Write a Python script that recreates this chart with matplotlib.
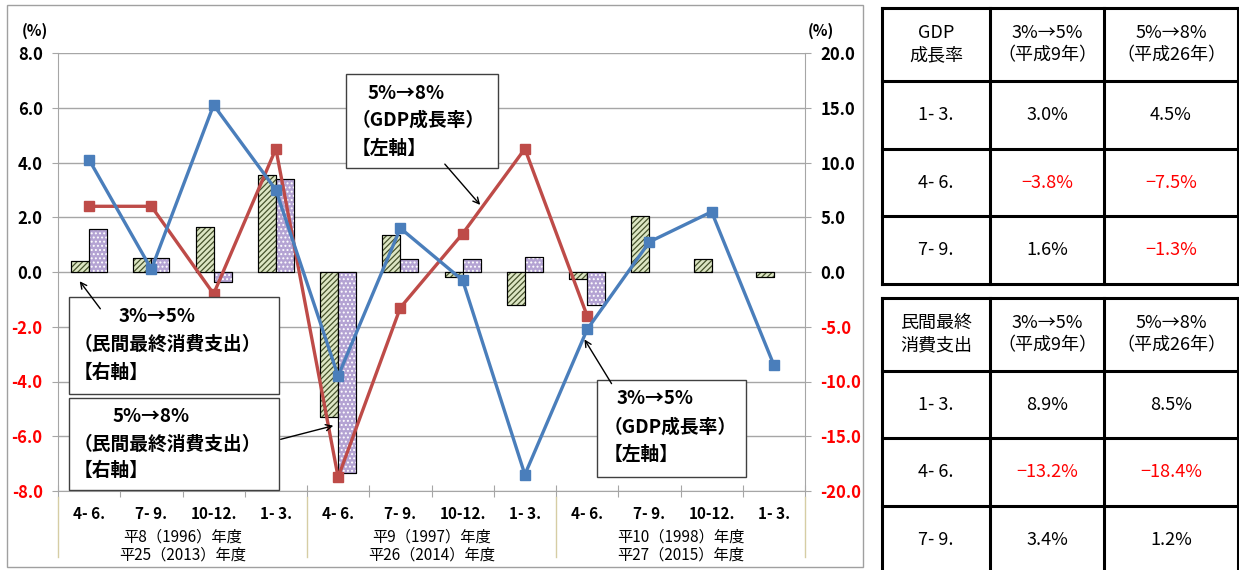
import matplotlib.pyplot as plt
from matplotlib.patches import Rectangle, FancyArrowPatch
from matplotlib.lines import Line2D
from matplotlib.transforms import blended_transform_factory
import numpy as np

plt.rcParams['font.family'] = ['Noto Sans CJK JP', 'DejaVu Sans']
plt.rcParams['hatch.linewidth'] = 0.9

W, H = 1239, 570

QUARTERS = ["4- 6.", "7- 9.", "10-12.", "1- 3."] * 3
GROUP_LINE1 = ["平8（1996）年度", "平9（1997）年度", "平10（1998）年度"]
GROUP_LINE2 = ["平25（2013）年度", "平26（2014）年度", "平27（2015）年度"]

# GDP growth (left axis), consumption (right axis)
gdp_3to5 = [4.1, 0.1, 6.1, 3.0, -3.8, 1.6, -0.3, -7.4, -2.1, 1.1, 2.2, -3.4]
gdp_5to8 = [2.4, 2.4, -0.8, 4.5, -7.5, -1.3, 1.4, 4.5, -1.6]
cons_3to5 = [1.0, 1.3, 4.1, 8.9, -13.2, 3.4, -0.5, -3.0, -0.6, 5.1, 1.2, -0.5]
cons_5to8 = [3.9, 1.3, -0.9, 8.5, -18.4, 1.2, 1.2, 1.4, -3.0]

LEFT_TICKS = [-8.0, -6.0, -4.0, -2.0, 0.0, 2.0, 4.0, 6.0, 8.0]
RIGHT_TICKS = [-20.0, -15.0, -10.0, -5.0, 0.0, 5.0, 10.0, 15.0, 20.0]

TABLE_ROWS = ["1- 3.", "4- 6.", "7- 9."]
GDP_HEAD = ["GDP\n成長率", "3%→5%\n（平成9年）", "5%→8%\n（平成26年）"]
GDP_A = ["3.0%", "−3.8%", "1.6%"]
GDP_B = ["4.5%", "−7.5%", "−1.3%"]
CONS_HEAD = ["民間最終\n消費支出", "3%→5%\n（平成9年）", "5%→8%\n（平成26年）"]
CONS_A = ["8.9%", "−13.2%", "3.4%"]
CONS_B = ["8.5%", "−18.4%", "1.2%"]

BLUE = '#4A7EBB'
RED = '#BE4B48'
GRID = '#A6A6A6'


def px(x, y):
    return x / W, 1 - y / H


def tick_color(v):
    return 'black' if v >= 0 else '#FF0000'


fig = plt.figure(figsize=(W / 100, H / 100), dpi=100)

# outer chart frame
fig.add_artist(Rectangle(px(7, 567), (863 - 7) / W, (567 - 5) / H, transform=fig.transFigure,
                         facecolor='none', edgecolor='#A0A0A0', lw=1.0))

rect = [58 / W, 1 - 491 / H, (805 - 58) / W, (491 - 53) / H]
ax_bar = fig.add_axes(rect)
ax_line = fig.add_axes(rect)
ax_line.patch.set_visible(False)

x = np.arange(len(QUARTERS))
bw = 0.29

# bars (right axis)
x1 = x[:len(cons_3to5)] - bw / 2
x2 = x[:len(cons_5to8)] + bw / 2
ax_bar.bar(x1, cons_3to5, bw, color='#DDE6C4', edgecolor='black', lw=0.8, zorder=2)
ax_bar.bar(x1, cons_3to5, bw, color='none', edgecolor='#46522C', hatch='//////', lw=0, zorder=2)
ax_bar.bar(x1, cons_3to5, bw, color='none', edgecolor='black', lw=0.8, zorder=2)
ax_bar.bar(x2, cons_5to8, bw, color='#B4A3D3', edgecolor='black', lw=0.8, zorder=2)
ax_bar.bar(x2, cons_5to8, bw, color='none', edgecolor='white', hatch='....', lw=0, zorder=2)
ax_bar.bar(x2, cons_5to8, bw, color='none', edgecolor='black', lw=0.8, zorder=2)

ax_bar.set_xlim(-0.5, len(QUARTERS) - 0.5)
ax_bar.set_ylim(-20, 20)
ax_bar.yaxis.tick_right()
ax_bar.set_yticks(RIGHT_TICKS, [f"{v:.1f}" for v in RIGHT_TICKS])
for lab, v in zip(ax_bar.get_yticklabels(), RIGHT_TICKS):
    lab.set_color(tick_color(v))
    lab.set_fontweight('bold')
    lab.set_fontsize(12)
ax_bar.tick_params(axis='y', length=4, color=GRID, pad=7)
ax_bar.set_xticks([])
ax_bar.grid(axis='y', color=GRID, lw=1.0)
ax_bar.set_axisbelow(True)
for s in ['left', 'top', 'bottom']:
    ax_bar.spines[s].set_visible(False)
ax_bar.spines['right'].set_color(GRID)

# lines (left axis)
ax_line.plot(x[:len(gdp_5to8)], gdp_5to8, color=RED, lw=2.4, marker='s', ms=7.5, zorder=3)
ax_line.plot(x[:len(gdp_3to5)], gdp_3to5, color=BLUE, lw=2.4, marker='s', ms=7.5, zorder=4)
ax_line.set_xlim(-0.5, len(QUARTERS) - 0.5)
ax_line.set_ylim(-8, 8)
ax_line.set_yticks(LEFT_TICKS, [f"{v:.1f}" for v in LEFT_TICKS])
for lab, v in zip(ax_line.get_yticklabels(), LEFT_TICKS):
    lab.set_color(tick_color(v))
    lab.set_fontweight('bold')
    lab.set_fontsize(12)
ax_line.tick_params(axis='y', length=4, color=GRID, pad=7)
ax_line.set_xticks(np.arange(-0.5, len(QUARTERS), 1.0))
ax_line.set_xticklabels([])
ax_line.set_xticks(x, QUARTERS, minor=True)
ax_line.tick_params(axis='x', which='major', direction='inout', length=8, color=GRID)
ax_line.tick_params(axis='x', which='minor', length=0, pad=11, labelsize=11)
for lab in ax_line.get_xticklabels(minor=True):
    lab.set_fontweight('bold')
for s in ['top', 'right']:
    ax_line.spines[s].set_visible(False)
ax_line.spines['left'].set_color(GRID)
ax_line.spines['bottom'].set_color(GRID)

# group separators and year labels
trans = blended_transform_factory(ax_line.transData, ax_line.transAxes)
y_sep0 = -(497 - 491) / 438
y_sep1 = -(557 - 491) / 438
for gx in [-0.5, 3.5, 7.5, 11.5]:
    ax_line.plot([gx, gx], [y_sep0, y_sep1], transform=trans, color='#D6CDA4', lw=1.0, clip_on=False)
for i, (l1, l2) in enumerate(zip(GROUP_LINE1, GROUP_LINE2)):
    gc = 4 * i + 1.5
    ax_line.text(gc, -(537 - 491) / 438, l1, transform=trans, ha='center', va='center', fontsize=11)
    ax_line.text(gc, -(555 - 491) / 438, l2, transform=trans, ha='center', va='center', fontsize=11)

fig.text(*px(35, 31), "(%)", ha='center', va='center', fontsize=11, fontweight='bold')
fig.text(*px(821, 31), "(%)", ha='center', va='center', fontsize=11, fontweight='bold')


# callout boxes
def callout(box, lines, arrow):
    x0, y0, x1_, y1_ = box
    fig.add_artist(Rectangle(px(x0, y1_), (x1_ - x0) / W, (y1_ - y0) / H, transform=fig.transFigure,
                             facecolor='white', edgecolor='#404040', lw=1.0, zorder=5))
    for (tx, ty, t) in lines:
        fig.text(*px(tx, ty), t, ha='left', va='center', fontsize=13.5, fontweight='bold', zorder=6)
    fig.add_artist(FancyArrowPatch(px(*arrow[0]), px(*arrow[1]), transform=fig.transFigure,
                                   arrowstyle='->', mutation_scale=11, lw=1.0, color='black', zorder=6))


callout((346, 74, 498, 168),
        [(368, 93, "5%→8%"), (352, 120, "（GDP成長率）"), (352, 148, "【左軸】")],
        ((443, 162), (482, 207)))
callout((69, 297, 279, 394),
        [(119, 316, "3%→5%"), (74, 344, "（民間最終消費支出）"), (74, 372, "【右軸】")],
        ((102, 311), (78, 279)))
callout((69, 398, 279, 490),
        [(113, 417, "5%→8%"), (74, 444, "（民間最終消費支出）"), (74, 470, "【右軸】")],
        ((278, 440), (336, 425)))
callout((597, 380, 746, 477),
        [(617, 398, "3%→5%"), (604, 427, "（GDP成長率）"), (604, 454, "【左軸】")],
        ((613, 386), (583, 337)))


# tables
def draw_table(xe, ye, head, col_a, col_b):
    for xv in xe:
        fig.add_artist(Line2D([xv / W, xv / W], [1 - ye[0] / H, 1 - ye[-1] / H],
                              transform=fig.transFigure, color='black', lw=2.2))
    for yv in ye:
        fig.add_artist(Line2D([xe[0] / W, xe[-1] / W], [1 - yv / H, 1 - yv / H],
                              transform=fig.transFigure, color='black', lw=2.2))
    cx = [(xe[i] + xe[i + 1]) / 2 for i in range(3)]
    cy = [(ye[i] + ye[i + 1]) / 2 for i in range(4)]
    for i, t in enumerate(head):
        fig.text(*px(cx[i], cy[0]), t, ha='center', va='center', fontsize=13, linespacing=1.3)
    for r in range(3):
        fig.text(*px(cx[0], cy[r + 1]), TABLE_ROWS[r], ha='center', va='center', fontsize=13)
        for c, col in ((1, col_a), (2, col_b)):
            t = col[r]
            fig.text(*px(cx[c], cy[r + 1]), t, ha='center', va='center', fontsize=13,
                     color='#FF0000' if t.startswith('−') else 'black')


draw_table([882, 990, 1104, 1238], [8, 81, 149, 216, 284], GDP_HEAD, GDP_A, GDP_B)
draw_table([882, 990, 1104, 1238], [298, 371, 438, 506, 574], CONS_HEAD, CONS_A, CONS_B)

fig.savefig("out.png", dpi=100)
